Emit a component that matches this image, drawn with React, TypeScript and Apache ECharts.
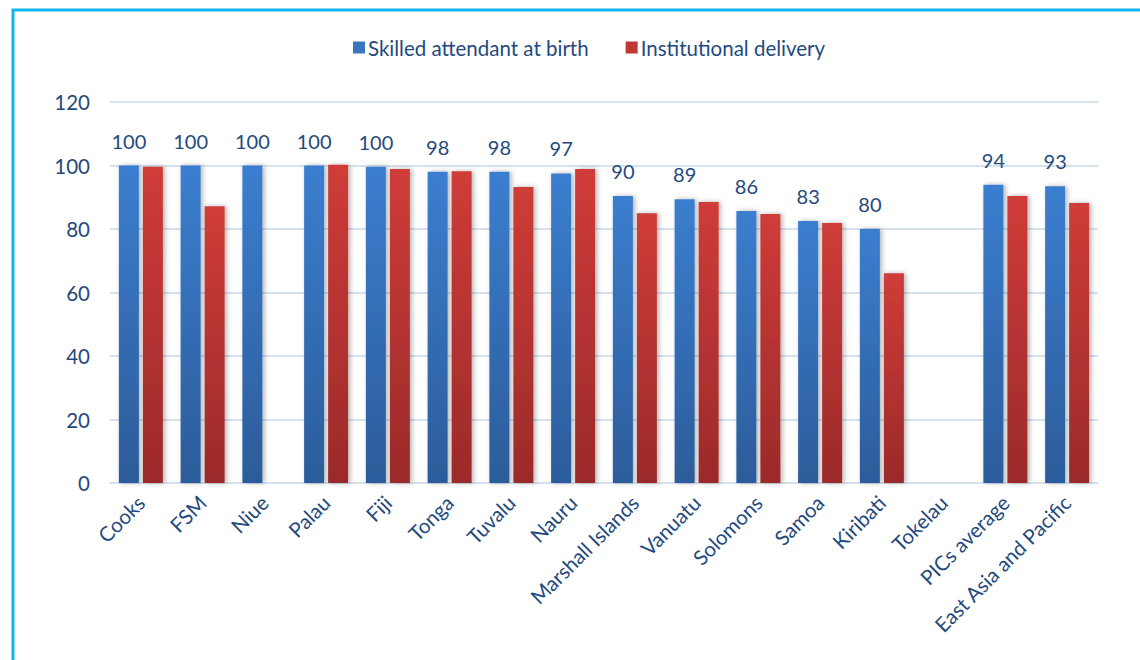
import React, { useEffect, useRef } from "react";
import * as echarts from "echarts";

const categories = [
  "Cooks", "FSM", "Niue", "Palau", "Fiji", "Tonga", "Tuvalu", "Nauru",
  "Marshall Islands", "Vanuatu", "Solomons", "Samoa", "Kiribati", "Tokelau",
  "PICs average", "East Asia and Pacific",
];
const skilled = [100, 100, 100, 100, 99.6, 98, 98, 97.5, 90.4, 89.4, 85.7, 82.5, 80, null, 93.9, 93.5];
const skilledLabels = ["100", "100", "100", "100", "100", "98", "98", "97", "90", "89", "86", "83", "80", "", "94", "93"];
const institutional = [99.6, 87.2, null, 100.2, 98.9, 98.2, 93.2, 98.9, 85, 88.5, 84.7, 81.9, 66.1, null, 90.4, 88.2];
const yTicks = [0, 20, 40, 60, 80, 100, 120];

const FONT = "Lato, 'Open Sans', sans-serif";
const TEXT = "#1F4A7E";

export default function App() {
  const ref = useRef<HTMLDivElement>(null);
  useEffect(() => {
    const chart = echarts.init(ref.current!, null, { renderer: "svg" });
    const blue = new echarts.graphic.LinearGradient(0, 0, 0, 1, [
      { offset: 0, color: "#3B7ECF" },
      { offset: 1, color: "#2C5C9A" },
    ]);
    const red = new echarts.graphic.LinearGradient(0, 0, 0, 1, [
      { offset: 0, color: "#CF3C38" },
      { offset: 1, color: "#9B2A2A" },
    ]);
    chart.setOption({
      animation: false,
      backgroundColor: "#ffffff",
      textStyle: { fontFamily: FONT },
      graphic: [
        {
          type: "rect",
          shape: { x: 13, y: 10, width: 1200, height: 700 },
          style: { fill: "none", stroke: "#12B3EE", lineWidth: 3 },
          silent: true,
        },
      ],
      legend: {
        data: [
          { name: "Skilled attendant at birth", itemStyle: { color: "#3A76C0" } },
          { name: "Institutional delivery", itemStyle: { color: "#C03733" } },
        ],
        left: 348,
        top: 32,
        itemWidth: 12,
        itemHeight: 12,
        itemGap: 37,
        icon: "rect",
        textStyle: { fontSize: 20.5, color: TEXT, fontFamily: FONT, padding: [0, 0, 0, -2] },
      },
      grid: { left: 110, right: 42, top: 102, bottom: 177, containLabel: false },
      xAxis: {
        type: "category",
        data: categories,
        axisLine: { show: true, lineStyle: { color: "#D6E2F0", width: 2 } },
        axisTick: { show: false },
        axisLabel: {
          rotate: 45,
          interval: 0,
          fontSize: 20.5,
          color: TEXT,
          margin: 16,
          fontFamily: FONT,
        },
      },
      yAxis: {
        type: "value",
        min: 0,
        max: 120,
        interval: 20,
        axisLine: { show: false },
        axisTick: { show: false },
        splitLine: { lineStyle: { color: "#D6E2F0", width: 2 } },
        axisLabel: {
          fontSize: 20.5,
          color: TEXT,
          margin: 20,
          fontFamily: FONT,
          formatter: (v: number) => (yTicks.includes(v) ? String(v) : ""),
        },
      },
      series: [
        {
          name: "Skilled attendant at birth",
          type: "bar",
          data: skilled,
          barWidth: 20,
          barGap: "20%",
          itemStyle: {
            color: blue,
            shadowBlur: 5,
            shadowColor: "rgba(0,0,0,0.3)",
            shadowOffsetX: 2,
          },
          label: {
            show: true,
            position: "top",
            distance: 15,
            fontSize: 20,
            color: TEXT,
            fontFamily: FONT,
            formatter: (p: any) => skilledLabels[p.dataIndex],
          },
        },
        {
          name: "Institutional delivery",
          type: "bar",
          data: institutional,
          barWidth: 20,
          itemStyle: {
            color: red,
            shadowBlur: 5,
            shadowColor: "rgba(0,0,0,0.3)",
            shadowOffsetX: 2,
          },
        },
      ],
    });
    return () => chart.dispose();
  }, []);
  return (
    <div
      ref={ref}
      style={{ position: "absolute", left: 0, top: 0, width: 1140, height: 660 }}
    />
  );
}
